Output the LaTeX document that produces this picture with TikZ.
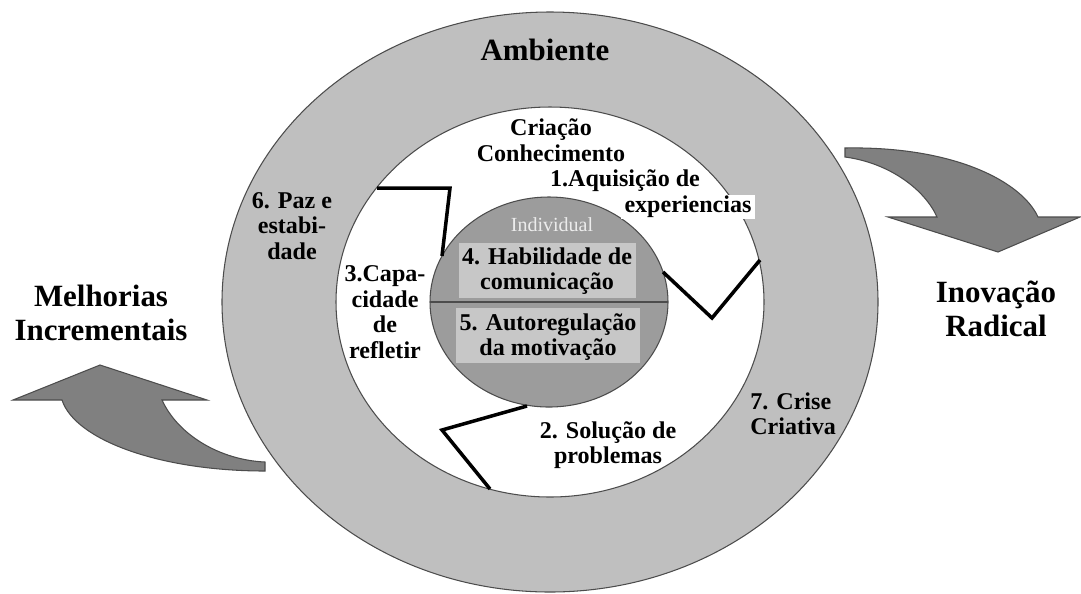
\documentclass[tikz,border=0pt]{standalone}
\usepackage{fontspec}
\setmainfont{Liberation Serif}
\definecolor{ringgrey}{gray}{0.75}
\definecolor{coregrey}{gray}{0.61}
\definecolor{boxgrey}{gray}{0.78}
\definecolor{arrowgrey}{gray}{0.5}

\begin{document}
\begin{tikzpicture}[x=0.02cm, y=-0.02cm,
    lbl/.style={font=\bfseries\fontsize{13.7}{14.5}\selectfont, align=center, inner sep=0pt},
    biglbl/.style={font=\bfseries\fontsize{17.6}{19.4}\selectfont, align=center, inner sep=0pt},
    rim/.style={draw=black!70, line width=0.6pt},
    zigzag/.style={line width=2pt, line join=miter}]
    \useasboundingbox (0, 0) rectangle (1081, 593);
    % arrows
    \draw [rim, fill=arrowgrey] (845, 148) .. controls (955, 146) and (1022, 182) .. (1038, 217)
        -- (1080, 217) -- (998, 252) -- (888, 217) -- (937, 217)
        .. controls (925, 190) and (890, 163) .. (845, 157) -- cycle;
    \draw [rim, fill=arrowgrey] (265, 462) .. controls (220, 460) and (178, 435) .. (162, 400)
        -- (207, 400) -- (100, 365) -- (13, 400) -- (62, 400)
        .. controls (75, 440) and (160, 471) .. (265, 471) -- cycle;
    % rings
    \draw [rim, fill=ringgrey]  (550, 302) ellipse [x radius=328, y radius=290];
    \draw [rim, fill=white]     (550, 302) ellipse [x radius=214, y radius=195];
    \draw [rim, fill=coregrey]  (549, 302) ellipse [x radius=119, y radius=105];
    \draw [rim]                 (430, 302) -- (668, 302);
    % zigzags
    \draw [zigzag] (377, 188) -- (450, 188) -- (442, 256);
    \draw [zigzag] (663, 272) -- (712, 318) -- (760, 260);
    \draw [zigzag] (527, 406) -- (442, 430) -- (490, 489);
    % boxes
    \fill [boxgrey] (459, 243) rectangle (636, 298);
    \fill [boxgrey] (456, 308) rectangle (640, 363);
    % labels
    \node [biglbl] (ambiente) at (545, 50) {Ambiente};
    \node [lbl] (criacao) at (551, 140) {Criação\\Conhecimento};
    \node [lbl, fill=white, inner xsep=2pt, inner ysep=0.5pt] (experiencias) at (688, 207) {experiencias};
    \node [lbl] (aquisicao) at (625, 181) {1.Aquisição de};
    \node [font=\fontsize{11.4}{12}\selectfont, text=gray!15, inner sep=0pt] (individual) at (552, 225) {Individual};
    \node [lbl] (habilidade) at (547, 271) {4. Habilidade de\\comunicação};
    \node [lbl] (autoregulacao) at (548, 337) {5. Autoregulação\\da motivação};
    \node [lbl] (paz) at (292, 226) {6. Paz e\\estabi-\\dade};
    \node [lbl] (capacidade) at (385, 312) {3.Capa-\\cidade\\de\\refletir};
    \node [lbl] (solucao) at (608, 445) {2. Solução de\\problemas};
    \node [lbl, anchor=west, align=left] (crise) at (750, 414) {7. Crise\\Criativa};
    \node [biglbl] (melhorias) at (101, 313) {Melhorias\\Incrementais};
    \node [biglbl] (inovacao) at (996, 309) {Inovação\\Radical};
  \end{tikzpicture}
\end{document}
